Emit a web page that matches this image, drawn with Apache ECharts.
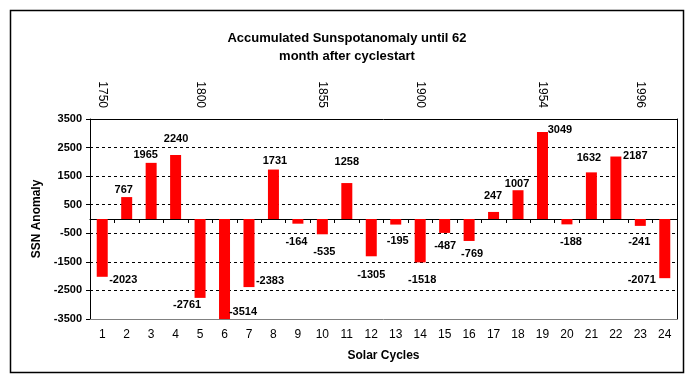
<!DOCTYPE html>
<html>
<head>
<meta charset="utf-8">
<script src="https://cdn.jsdelivr.net/npm/echarts@6/dist/echarts.min.js"></script>
<style>html,body{margin:0;padding:0;background:#fff}#c{width:694px;height:384px}</style>
</head>
<body>
<div id="c"></div>
<script>
var categories = ['1','2','3','4','5','6','7','8','9','10','11','12','13','14','15','16','17','18','19','20','21','22','23','24'];
var ssnAnomaly = [-2023, 767, 1965, 2240, -2761, -3514, -2383, 1731, -164, -535, 1258, -1305, -195, -1518, -487, -769, 247, 1007, 3049, -188, 1632, 2187, -241, -2071];
var yearLabels = ['1750','','','','1800','','','','','1855','','','','1900','','','','','1954','','','','1996',''];
var yTicks = {min: -3500, max: 3500, interval: 1000};
// label offsets (px) relative to the default outside label position
var labelDx = [21, -3, -5.5, 0.5, -13, 18.5, 21, 1.5, -1.5, 2, 0, 0, 2, 2, 0.5, 3, -0.5, -1, 17.5, 4, -2.5, 19.5, -1, -23];
var labelDy = [-7.3, 3.5, 2.5, -5.5, -3.4, -17.5, -16.5, 2, 7.5, 7, -10.5, 8.5, 6, 7, 2.3, 2.5, -5.5, 4, 8.5, 7, -3.5, 10, 5.6, -8.5];

var FONT = '"Liberation Sans", Arial, sans-serif';
var chart = echarts.init(document.getElementById('c'), null, {renderer: 'canvas'});
var seriesData = ssnAnomaly.map(function (v, i) {
  return {value: v, label: {position: 'outside', offset: [labelDx[i], labelDy[i]]}};
});
chart.setOption({
  animation: false,
  backgroundColor: '#fff',
  title: {
    text: 'Accumulated Sunspotanomaly until 62\nmonth after cyclestart',
    left: 'center', top: 24,
    textStyle: {fontFamily: FONT, fontWeight: 'bold', fontSize: 13, lineHeight: 18, color: '#000'}
  },
  graphic: [{
    type: 'rect', shape: {x: 10.5, y: 10.5, width: 673, height: 362},
    style: {fill: null, stroke: '#000', lineWidth: 1.5}, silent: true
  }],
  grid: {left: 90, right: 17, top: 119, bottom: 65, show: false},
  xAxis: [{
    type: 'category', data: categories, position: 'bottom',
    axisLine: {onZero: false, lineStyle: {color: '#808080', width: 1}},
    axisTick: {show: false},
    axisLabel: {interval: 0, margin: 10, fontFamily: FONT, fontSize: 12, color: '#000'},
    name: 'Solar Cycles', nameLocation: 'middle', nameGap: 31,
    nameTextStyle: {fontFamily: FONT, fontSize: 12, fontWeight: 'bold', color: '#000'}
  }, {
    type: 'category', data: categories, position: 'top',
    axisLine: {onZero: false, lineStyle: {color: '#000', width: 1}},
    axisTick: {show: false},
    axisLabel: {interval: 0, rotate: 90, margin: 11, fontFamily: FONT, fontSize: 12, color: '#000',
      formatter: function (v, i) { return yearLabels[i]; }}
  }, {
    type: 'category', data: categories, position: 'bottom', offset: -100,
    axisLine: {onZero: false, lineStyle: {color: '#000', width: 1}},
    axisTick: {show: true, length: 4, inside: false, lineStyle: {color: '#000'}},
    axisLabel: {show: false}
  }],
  yAxis: [{
    type: 'value', position: 'left', min: yTicks.min, max: yTicks.max, interval: yTicks.interval,
    axisLine: {show: true, onZero: false, lineStyle: {color: '#000'}},
    axisTick: {show: true, length: 4, lineStyle: {color: '#000'}},
    axisLabel: {margin: 8, fontFamily: FONT, fontSize: 11, fontWeight: 'bold', color: '#000',
      formatter: function (v) { return String(v); }},
    splitLine: {show: true, showMinLine: false, showMaxLine: false, lineStyle: {color: '#000', type: [3, 3], width: 1}},
    name: 'SSN Anomaly', nameLocation: 'middle', nameGap: 46,
    nameTextStyle: {fontFamily: FONT, fontSize: 12, fontWeight: 'bold', color: '#000'}
  }, {
    type: 'value', position: 'right', min: yTicks.min, max: yTicks.max, interval: yTicks.interval,
    axisLine: {show: true, onZero: false, lineStyle: {color: '#000'}},
    axisTick: {show: false}, axisLabel: {show: false}, splitLine: {show: false}
  }],
  series: [{
    type: 'bar', xAxisIndex: 0, yAxisIndex: 0, data: seriesData, barWidth: 11,
    itemStyle: {color: '#ff0000'},
    label: {show: true, position: 'outside', distance: 5, fontFamily: FONT, fontSize: 11, fontWeight: 'bold', color: '#000'}
  }]
});
</script>
</body>
</html>
